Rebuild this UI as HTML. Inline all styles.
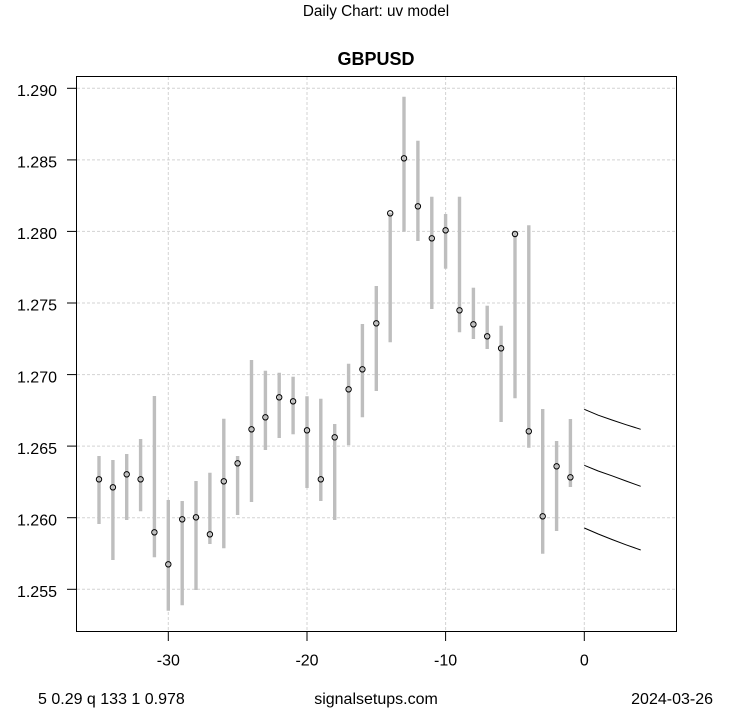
<!DOCTYPE html>
<html><head><meta charset="utf-8"><style>
html,body{margin:0;padding:0;background:#fff;}
svg{display:block;font-family:"Liberation Sans",Arial,sans-serif;}
</style></head><body>
<svg width="753" height="708" viewBox="0 0 753 708" xmlns="http://www.w3.org/2000/svg">
<rect width="753" height="708" fill="#fff"/>
<text x="376" y="16" font-size="15.3" text-anchor="middle" fill="#000">Daily Chart: uv model</text>
<text x="376" y="65" font-size="18" font-weight="bold" text-anchor="middle" fill="#000">GBPUSD</text>
<g stroke="#d3d3d3" stroke-width="1" stroke-dasharray="3 2" fill="none">
<line x1="77" y1="88.3" x2="676" y2="88.3"/>
<line x1="77" y1="159.9" x2="676" y2="159.9"/>
<line x1="77" y1="231.4" x2="676" y2="231.4"/>
<line x1="77" y1="303.0" x2="676" y2="303.0"/>
<line x1="77" y1="374.6" x2="676" y2="374.6"/>
<line x1="77" y1="446.1" x2="676" y2="446.1"/>
<line x1="77" y1="517.7" x2="676" y2="517.7"/>
<line x1="77" y1="589.3" x2="676" y2="589.3"/>
<line x1="168.3" y1="77" x2="168.3" y2="631"/>
<line x1="307.0" y1="77" x2="307.0" y2="631"/>
<line x1="445.6" y1="77" x2="445.6" y2="631"/>
<line x1="584.3" y1="77" x2="584.3" y2="631"/>
</g>
<g stroke="#bebebe" stroke-width="3.4" fill="none">
<line x1="99.0" y1="456" x2="99.0" y2="524"/>
<line x1="112.9" y1="460" x2="112.9" y2="560"/>
<line x1="126.7" y1="454" x2="126.7" y2="520"/>
<line x1="140.6" y1="439" x2="140.6" y2="511.3"/>
<line x1="154.4" y1="396" x2="154.4" y2="557.3"/>
<line x1="168.3" y1="500" x2="168.3" y2="610.7"/>
<line x1="182.2" y1="501" x2="182.2" y2="605.3"/>
<line x1="196.0" y1="481" x2="196.0" y2="590"/>
<line x1="209.9" y1="472.7" x2="209.9" y2="544"/>
<line x1="223.8" y1="418.7" x2="223.8" y2="548.3"/>
<line x1="237.6" y1="456" x2="237.6" y2="515"/>
<line x1="251.5" y1="360" x2="251.5" y2="502"/>
<line x1="265.4" y1="370.7" x2="265.4" y2="450"/>
<line x1="279.2" y1="372.7" x2="279.2" y2="438"/>
<line x1="293.1" y1="376.7" x2="293.1" y2="434.3"/>
<line x1="307.0" y1="396.3" x2="307.0" y2="488"/>
<line x1="320.8" y1="398.7" x2="320.8" y2="501"/>
<line x1="334.7" y1="424" x2="334.7" y2="520"/>
<line x1="348.6" y1="363.7" x2="348.6" y2="445.3"/>
<line x1="362.4" y1="324" x2="362.4" y2="417.3"/>
<line x1="376.3" y1="286" x2="376.3" y2="391"/>
<line x1="390.2" y1="212.7" x2="390.2" y2="342.3"/>
<line x1="404.0" y1="96.7" x2="404.0" y2="231.7"/>
<line x1="417.9" y1="140.7" x2="417.9" y2="241"/>
<line x1="431.8" y1="196.7" x2="431.8" y2="309"/>
<line x1="445.6" y1="214" x2="445.6" y2="268.7"/>
<line x1="459.5" y1="196.7" x2="459.5" y2="332.3"/>
<line x1="473.4" y1="287.7" x2="473.4" y2="339"/>
<line x1="487.2" y1="305.7" x2="487.2" y2="349"/>
<line x1="501.1" y1="325.7" x2="501.1" y2="422"/>
<line x1="515.0" y1="232" x2="515.0" y2="398.3"/>
<line x1="528.8" y1="225.3" x2="528.8" y2="447.7"/>
<line x1="542.7" y1="409" x2="542.7" y2="553.7"/>
<line x1="556.6" y1="441" x2="556.6" y2="531"/>
<line x1="570.4" y1="419" x2="570.4" y2="487"/>
</g>
<g stroke="#000" stroke-width="1" fill="none">
<circle cx="99.0" cy="479.3" r="2.7"/>
<circle cx="112.9" cy="487.3" r="2.7"/>
<circle cx="126.7" cy="474.3" r="2.7"/>
<circle cx="140.6" cy="479.3" r="2.7"/>
<circle cx="154.4" cy="532.3" r="2.7"/>
<circle cx="168.3" cy="564.3" r="2.7"/>
<circle cx="182.2" cy="519.3" r="2.7"/>
<circle cx="196.0" cy="517.3" r="2.7"/>
<circle cx="209.9" cy="534.3" r="2.7"/>
<circle cx="223.8" cy="481.3" r="2.7"/>
<circle cx="237.6" cy="463.3" r="2.7"/>
<circle cx="251.5" cy="429.3" r="2.7"/>
<circle cx="265.4" cy="417.3" r="2.7"/>
<circle cx="279.2" cy="397.3" r="2.7"/>
<circle cx="293.1" cy="401.3" r="2.7"/>
<circle cx="307.0" cy="430.3" r="2.7"/>
<circle cx="320.8" cy="479.3" r="2.7"/>
<circle cx="334.7" cy="437.3" r="2.7"/>
<circle cx="348.6" cy="389.3" r="2.7"/>
<circle cx="362.4" cy="369.3" r="2.7"/>
<circle cx="376.3" cy="323.3" r="2.7"/>
<circle cx="390.2" cy="213.3" r="2.7"/>
<circle cx="404.0" cy="158.3" r="2.7"/>
<circle cx="417.9" cy="206.3" r="2.7"/>
<circle cx="431.8" cy="238.3" r="2.7"/>
<circle cx="445.6" cy="230.3" r="2.7"/>
<circle cx="459.5" cy="310.3" r="2.7"/>
<circle cx="473.4" cy="324.3" r="2.7"/>
<circle cx="487.2" cy="336.3" r="2.7"/>
<circle cx="501.1" cy="348.3" r="2.7"/>
<circle cx="515.0" cy="234" r="2.7"/>
<circle cx="528.8" cy="431.3" r="2.7"/>
<circle cx="542.7" cy="516.3" r="2.7"/>
<circle cx="556.6" cy="466.3" r="2.7"/>
<circle cx="570.4" cy="477.3" r="2.7"/>
<polyline points="584.3,409.3 598.2,415.2 612,420 626,424.7 640.7,429.3"/>
<polyline points="584.3,465.3 598.2,471 612,475.8 626,481 640.7,486.3"/>
<polyline points="584.3,528 598.2,534 612,539.5 626,544.8 640.7,550"/>
</g>
<rect x="76.5" y="76.5" width="600" height="555" fill="none" stroke="#000" stroke-width="1"/>
<g stroke="#000" stroke-width="1">
<line x1="67" y1="88.3" x2="76.5" y2="88.3"/>
<line x1="67" y1="159.9" x2="76.5" y2="159.9"/>
<line x1="67" y1="231.4" x2="76.5" y2="231.4"/>
<line x1="67" y1="303.0" x2="76.5" y2="303.0"/>
<line x1="67" y1="374.6" x2="76.5" y2="374.6"/>
<line x1="67" y1="446.1" x2="76.5" y2="446.1"/>
<line x1="67" y1="517.7" x2="76.5" y2="517.7"/>
<line x1="67" y1="589.3" x2="76.5" y2="589.3"/>
<line x1="168.3" y1="631.5" x2="168.3" y2="641"/>
<line x1="307.0" y1="631.5" x2="307.0" y2="641"/>
<line x1="445.6" y1="631.5" x2="445.6" y2="641"/>
<line x1="584.3" y1="631.5" x2="584.3" y2="641"/>
</g>
<g font-size="16" fill="#000" text-anchor="end">
<text x="57" y="96">1.290</text>
<text x="57" y="167.6">1.285</text>
<text x="57" y="239.1">1.280</text>
<text x="57" y="310.7">1.275</text>
<text x="57" y="382.3">1.270</text>
<text x="57" y="453.8">1.265</text>
<text x="57" y="525.4">1.260</text>
<text x="57" y="597">1.255</text>
</g>
<g font-size="16" fill="#000" text-anchor="middle">
<text x="168.3" y="665.7">-30</text>
<text x="307.0" y="665.7">-20</text>
<text x="445.6" y="665.7">-10</text>
<text x="584.3" y="665.7">0</text>
<text x="376" y="704">signalsetups.com</text>
</g>
<text x="38" y="704" font-size="16" fill="#000">5 0.29 q 133 1 0.978</text>
<text x="713" y="704" font-size="16" fill="#000" text-anchor="end">2024-03-26</text>
</svg>
</body></html>
